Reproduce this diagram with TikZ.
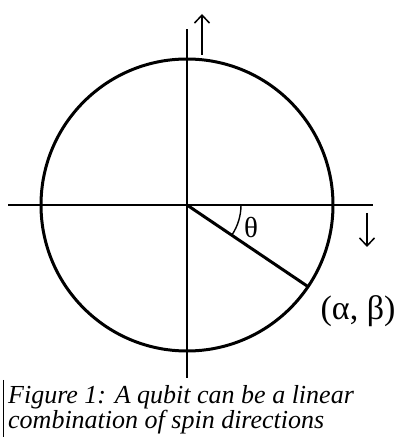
\documentclass[tikz,border=0pt]{standalone}
\usepackage{fontspec}
\setmainfont{Liberation Serif}
\usetikzlibrary{arrows.meta, positioning, calc}

\begin{document}
\begin{tikzpicture}[
  x=1pt, y=1pt,
  axis/.style={line width=1.9pt},
  spinarr/.style={-{Straight Barb[length=8pt, width=15pt, line width=1.5pt]}, line width=1.5pt},
  lbl/.style={inner sep=0pt, font=\fontsize{29}{30}\selectfont},
  caption/.style={inner sep=0pt, anchor=base west, font=\fontsize{26}{25}\selectfont\itshape}
]
  \useasboundingbox (0,0) rectangle (399,437);

  \coordinate (O) at (187,232);
  \coordinate (left)  at (8,232);
  \coordinate (right) at (373,232);
  \coordinate (top)   at (187,408);
  \coordinate (bot)   at (187,59);
  \coordinate (P) at ($(O)+(-34:146pt)$);

  % axes and circle
  \draw[axis] (left) -- (right);
  \draw[axis] (bot) -- (top);
  \draw[line width=3pt] (O) circle[radius=146];
  \draw[line width=3pt] (O) -- (P);
  \draw[line width=1.4pt] (O) ++(54,0) arc[start angle=0, end angle=-34, radius=54];

  % spin arrows
  \coordinate (up0) at (202,382);
  \coordinate (up1) at (202,423);
  \coordinate (dn0) at (367,224);
  \coordinate (dn1) at (367,190);
  \draw[spinarr] (up0) -- (up1);
  \draw[spinarr] (dn0) -- (dn1);

  % labels
  \node[lbl] (theta) at (251,209) {θ};
  \node[lbl, font=\fontsize{34}{36}\selectfont] (ab) at (358,126) {(α, β)};

  % caption
  \coordinate (bar0) at (3,57);
  \coordinate (bar1) at (3,0);
  \draw[line width=0.8pt] (bar0) -- (bar1);
  \node[caption] (cap1) at (8,34) {Figure 1: A qubit can be a linear};
  \node[caption] (cap2) at (8,9) {combination of spin directions};
\end{tikzpicture}
\end{document}
